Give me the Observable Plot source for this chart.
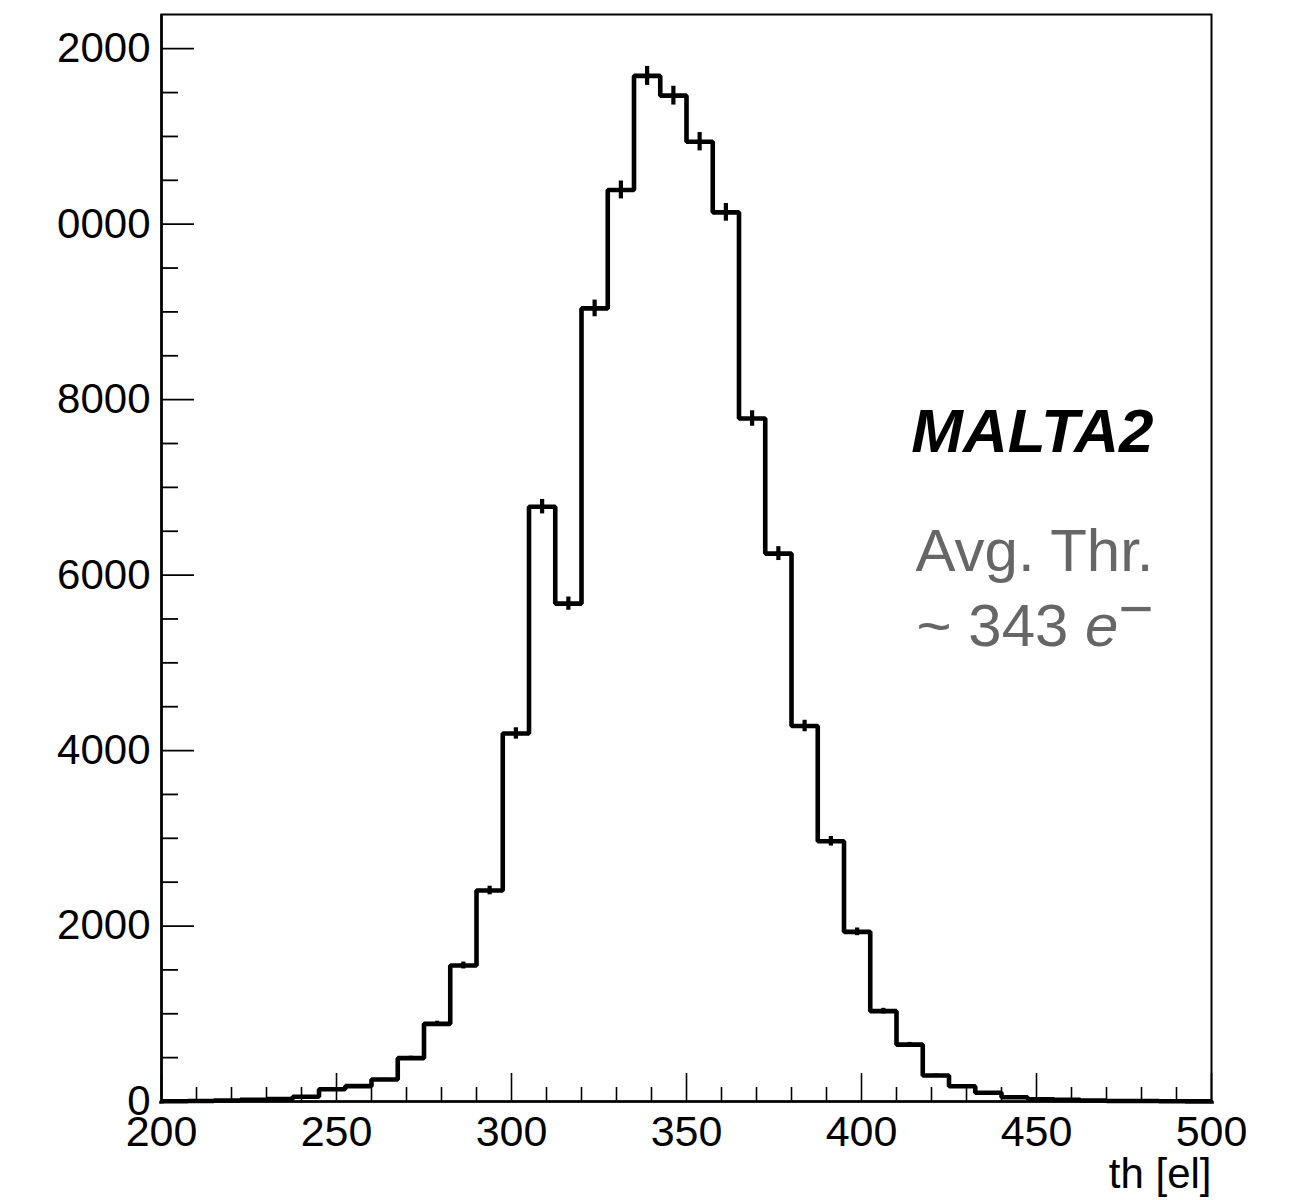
<!DOCTYPE html>
<html>
<head>
<meta charset="utf-8">
<script src="https://cdn.jsdelivr.net/npm/d3@7"></script>
<script src="https://cdn.jsdelivr.net/npm/@observablehq/plot@0.6"></script>
<style>
  html, body { margin: 0; padding: 0; background: #ffffff; }
</style>
</head>
<body>
<div id="chart"></div>
<script>
// ---- Data ----
const xMin = 200;
const xMax = 500;
const binWidth = 7.5;
const counts = [
  3, 6, 12, 20, 28, 55, 140, 175, 250, 494,
  885, 1550, 2405, 4195, 6780, 5675, 9040, 10390, 11690, 11465,
  10940, 10135, 7785, 6245, 4280, 2966, 1934, 1030, 648, 296,
  174, 99, 49, 25, 18, 12, 6, 5, 3, 2
];
const xTicksMajor = [200, 250, 300, 350, 400, 450, 500];
const xTickLabels = ["200", "250", "300", "350", "400", "450", "500"];
const yTicksMajor = [0, 2000, 4000, 6000, 8000, 10000, 12000];
const yTickLabels = ["0", "2000", "4000", "6000", "8000", "0000", "2000"];
const yMax = 12390;
const xLabel = "th [el]";
const title = "MALTA2";
const noteLines = ["Avg. Thr.", "~ 343 e\u2212"];

// ---- Derived tables ----
const xTicksMinor = d3.range(xMin, xMax + 1, 10).filter(v => !xTicksMajor.includes(v));
const yTicksMinor = d3.range(0, yMax, 500).filter(v => !yTicksMajor.includes(v));
const xLabelMap = new Map(xTicksMajor.map((v, i) => [v, xTickLabels[i]]));
const yLabelMap = new Map(yTicksMajor.map((v, i) => [v, yTickLabels[i]]));

const bins = counts.map((c, i) => ({
  x0: xMin + i * binWidth,
  x1: xMin + (i + 1) * binWidth,
  xc: xMin + (i + 0.5) * binWidth,
  count: c,
  err: Math.sqrt(c)
}));
const steps = [{x: xMin, y: 0}]
  .concat(bins.map(b => ({x: b.x0, y: b.count})))
  .concat([{x: xMax, y: counts[counts.length - 1]}, {x: xMax, y: 0}]);

// ---- Layout ----
const W = 1301, H = 1200;
const mL = 161, mR = 90, mT = 14, mB = 99;
const innerW = W - mL - mR, innerH = H - mT - mB;
const FONT = "Helvetica, 'Liberation Sans', Arial, sans-serif";

const chart = Plot.plot({
  width: W,
  height: H,
  marginLeft: mL,
  marginRight: mR,
  marginTop: mT,
  marginBottom: mB,
  style: {fontFamily: FONT, background: "#ffffff", color: "#000"},
  x: {domain: [xMin, xMax]},
  y: {domain: [0, yMax]},
  marks: [
    // minor / major ticks drawn inward
    Plot.ruleX(xTicksMinor, {x: d => d, insetTop: innerH - 14, stroke: "#000", strokeWidth: 1.6}),
    Plot.ruleX(xTicksMajor, {x: d => d, insetTop: innerH - 28, stroke: "#000", strokeWidth: 1.6}),
    Plot.ruleY(yTicksMinor, {y: d => d, insetRight: innerW - 17, stroke: "#000", strokeWidth: 1.8}),
    Plot.ruleY(yTicksMajor, {y: d => d, insetRight: innerW - 33, stroke: "#000", strokeWidth: 1.8}),
    // frame and axis lines
    Plot.frame({stroke: "#000", strokeWidth: 2}),
    Plot.ruleX([xMin], {stroke: "#000", strokeWidth: 2.6}),
    Plot.ruleY([0], {stroke: "#000", strokeWidth: 2.4}),
    // histogram outline
    Plot.line(steps, {x: "x", y: "y", curve: "step-after", stroke: "#000", strokeWidth: 4.6, strokeLinejoin: "miter", strokeLinecap: "square"}),
    // error bars
    Plot.ruleX(bins, {x: "xc", y1: d => d.count - d.err, y2: d => d.count + d.err, stroke: "#000", strokeWidth: 4.2}),
    // tick labels
    Plot.axisX(xTicksMajor, {tickSize: 0, tickPadding: 14, fontSize: 43, tickFormat: d => xLabelMap.get(d), label: null, fill: "#000"}),
    Plot.axisY(yTicksMajor, {tickSize: 0, tickPadding: 11, fontSize: 42, tickFormat: d => yLabelMap.get(d), label: null, fill: "#000"}),
    // axis title
    Plot.text([xLabel], {text: d => d, frameAnchor: "bottom-right", textAnchor: "end", lineAnchor: "bottom", dy: 86, fontSize: 42, fill: "#000"}),
    // annotations
    Plot.text([title], {text: d => d, frameAnchor: "top-right", textAnchor: "end", lineAnchor: "top", dx: -58, dy: 393, fontSize: 62, fontWeight: "bold", fontStyle: "italic", fill: "#000"}),
    Plot.text([noteLines.join("\n")], {text: d => d, frameAnchor: "top-right", textAnchor: "end", lineAnchor: "top", dx: -58, dy: 503, fontSize: 60, lineHeight: 1.25, fill: "#666666"})
  ]
});

// Style the "e−" part: italic e with raised minus
const NS = "http://www.w3.org/2000/svg";
chart.querySelectorAll("tspan").forEach(ts => {
  if (ts.textContent === noteLines[1]) {
    const txt = noteLines[1];
    const base = txt.slice(0, txt.length - 2);
    ts.textContent = base;
    const e = document.createElementNS(NS, "tspan");
    e.setAttribute("font-style", "italic");
    e.textContent = "e";
    const m = document.createElementNS(NS, "tspan");
    m.setAttribute("dy", "-17");
    m.textContent = "\u2212";
    ts.appendChild(e);
    ts.appendChild(m);
  }
});

document.getElementById("chart").appendChild(chart);
</script>
</body>
</html>
